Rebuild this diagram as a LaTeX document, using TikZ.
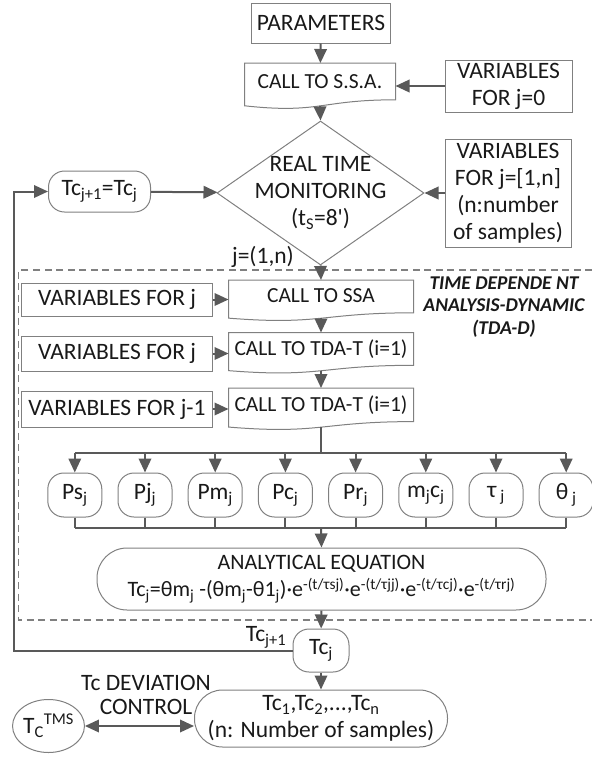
\documentclass[tikz,border=0pt]{standalone}
\usepackage{fontspec}
\setmainfont{Carlito}
\usetikzlibrary{shapes.geometric,arrows.meta,calc}

\definecolor{linegray}{RGB}{89,89,89}
\definecolor{boxgray}{RGB}{128,128,128}
\definecolor{inkgray}{RGB}{25,25,25}

\newcommand{\docframe}[1]{%
  \draw[boxline] (#1.north west) -- (#1.north east) -- ($(#1.north east)!0.8!(#1.south east)$)
    .. controls ($(#1.north)!0.8!(#1.south)$) and ($(#1.north)!1.11!(#1.south)$) .. ($(#1.north west)!0.93!(#1.south west)$) -- cycle;}

\begin{document}
\begin{tikzpicture}[x=1pt, y=-1pt, font=\fontsize{23.5}{27}\selectfont, text=inkgray,
    boxline/.style={draw=boxgray, line width=1pt},
    box/.style={boxline, align=center, inner sep=0pt},
    roundbox/.style={box, rounded corners=#1},
    roundbox/.default=16pt,
    docbox/.style={inner sep=0pt, outer sep=0pt, align=center, text height=15pt, text depth=11pt, font=\fontsize{21.5}{25}\selectfont},
    arr/.style={draw=linegray, line width=2pt, -{Triangle[length=14pt,width=12.5pt]}},
    dblarr/.style={draw=linegray, line width=2pt, {Triangle[length=14pt,width=12.5pt]}-{Triangle[length=14pt,width=12.5pt]}},
    bus/.style={draw=linegray, line width=2pt}]
  \useasboundingbox (0,0) rectangle (592,761);

  \draw[boxgray, line width=1.1pt, dash pattern=on 7pt off 4.5pt] (592,270) -- (18.5,270) -- (18.5,620) -- (592,620);

  \node[box, minimum width=139pt, minimum height=40pt] (param) at (321,23) {PARAMETERS};
  \node[docbox, minimum width=151pt, minimum height=46pt] (ssa) at (320,86) {CALL TO S.S.A.};
  \docframe{ssa}
  \node[box, minimum width=127pt, minimum height=52pt] (var0) at (508.5,86) {VARIABLES\\FOR j=0};
  \node[box, diamond, minimum width=207pt, minimum height=144pt,
    label={[align=center]center:REAL TIME\\MONITORING\\(t\textsubscript{S}=8\textquotesingle)}] (mon) at (320.5,193) {};
  \node[box, minimum width=126pt, minimum height=108pt] (varn) at (508,193) {VARIABLES\\FOR j=[1,n]\\(n:number\\of samples)};
  \node[roundbox, minimum width=102pt, minimum height=41pt] (tcup) at (99.5,191.5) {Tc\textsubscript{j+1}=Tc\textsubscript{j}};

  \draw[arr] (param) -- (ssa);
  \draw[arr] (var0.west) -- (var0.west -| ssa.east);
  \draw[arr] ($(ssa.north)!0.93!(ssa.south)$) -- (mon.north);
  \draw[arr] (varn) -- (mon);
  \draw[arr] (tcup) -- (mon);

  \node (jrange) at (263,257) {j=(1,n)};
  \node[font=\fontsize{19.5}{22.5}\selectfont\bfseries\itshape, align=center] (tdad) at (504,307) {TIME DEPENDE NT\\ANALYSIS-DYNAMIC\\(TDA-D)};

  \node[docbox, minimum width=185pt, minimum height=41pt] (ssa2) at (321,300.5) {CALL TO SSA};
  \node[docbox, minimum width=185pt, minimum height=41pt] (tda1) at (321,353) {CALL TO TDA-T (i=1)};
  \node[docbox, minimum width=185pt, minimum height=42pt] (tda2) at (321,409) {CALL TO TDA-T (i=1)};
  \docframe{ssa2}
  \docframe{tda1}
  \docframe{tda2}
  \node[box, minimum width=191pt, minimum height=33pt] (varj) at (117,299.5) {VARIABLES FOR j};
  \node[box, minimum width=191pt, minimum height=35pt] (varjj) at (117,353.5) {VARIABLES FOR j};
  \node[box, minimum width=191pt, minimum height=36pt] (varjm) at (117,409) {VARIABLES FOR j-1};

  \draw[arr] (mon.south) -- (ssa2.north);
  \draw[arr] ($(ssa2.north)!0.93!(ssa2.south)$) -- (tda1.north);
  \draw[arr] ($(tda1.north)!0.93!(tda1.south)$) -- (tda2.north);
  \draw[arr] (varj.east) -- (varj.east -| ssa2.west);
  \draw[arr] (varjj.east) -- (varjj.east -| tda1.west);
  \draw[arr] (varjm.east) -- (varjm.east -| tda2.west);

  \coordinate (split) at (321,453);
  \coordinate (join) at (321,528);
  \draw[bus] ($(tda2.north)!0.93!(tda2.south)$) -- (split);
  \foreach \nm/\txt [count=\i] in {ps/Ps\textsubscript{j}, pj/Pj\textsubscript{j}, pm/Pm\textsubscript{j},
      pc/Pc\textsubscript{j}, pr/Pr\textsubscript{j}, mc/m\textsubscript{j}c\textsubscript{j},
      tau/τ\,\textsubscript{j}, theta/θ\,\textsubscript{j}} {
    \node[roundbox, minimum width=54pt, minimum height=44pt] (\nm) at ({4.6+70.2*\i},495) {\txt};
    \draw[arr] (split -| \nm) -- (\nm.north);
    \draw[bus] (\nm.south) -- (join -| \nm);
  }
  \draw[bus] (split -| ps) -- (split -| theta);
  \draw[bus] (join -| ps) -- (join -| theta);

  \node[roundbox=30pt, minimum width=449pt, minimum height=62pt, font=\fontsize{22}{26}\selectfont] (eq) at (321.5,579)
    {ANALYTICAL EQUATION\\[1pt]
     Tc\textsubscript{j}=θm\textsubscript{j} -(θm\textsubscript{j}-θ1\textsubscript{j})·e\textsuperscript{-(t/τsj)}·e\textsuperscript{-(t/τjj)}·e\textsuperscript{-(t/τcj)}·e\textsuperscript{-(t/τrj)}};
  \draw[arr] (join) -- (eq.north);

  \node[roundbox, minimum width=56pt, minimum height=43pt] (tcj) at (321,650.5) {Tc\textsubscript{j}};
  \node (tcnext) at (266,637) {Tc\textsubscript{j+1}};
  \draw[arr] (eq) -- (tcj);
  \coordinate (loop) at (14,650.5);
  \draw[arr] (tcj.west) -- (loop) |- (tcup.west);

  \node[roundbox=28pt, minimum width=253pt, minimum height=57pt] (out) at (321,718.5)
    {Tc\textsubscript{1},Tc\textsubscript{2},...,Tc\textsubscript{n}\\(n: Number of samples)};
  \draw[arr] (tcj) -- (out);
  \node[box, ellipse, minimum width=57pt, minimum height=53pt] (tms) at (48.5,726) {T\textsubscript{C}\textsuperscript{TMS}};
  \draw[dblarr] (tms.east) -- (tms.east -| out.west);
  \node[align=center, font=\fontsize{23.5}{24}\selectfont] (devctl) at (146,695) {Tc DEVIATION\\CONTROL};
\end{tikzpicture}
\end{document}
